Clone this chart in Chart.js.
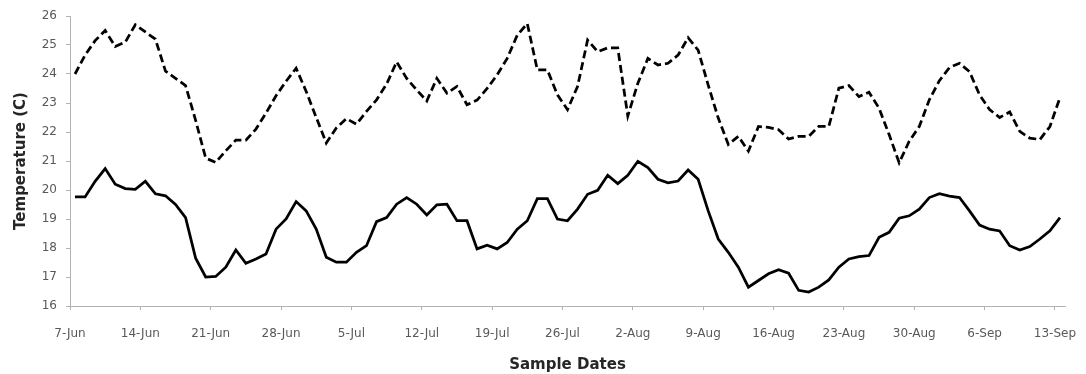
<!DOCTYPE html>
<html>
<head>
<meta charset="utf-8">
<script src="https://cdn.jsdelivr.net/npm/chart.js@4.4.1/dist/chart.umd.min.js"></script>
<style>
  html, body { margin: 0; padding: 0; background: #ffffff; }
  #wrap { width: 1086px; height: 374px; position: relative; }
</style>
</head>
<body>
<div id="wrap"><canvas id="c" width="1086" height="374"></canvas></div>
<script>
// Tick labels on the x axis (every 7 days, starting 7-Jun)
const tickLabels = ['7-Jun','14-Jun','21-Jun','28-Jun','5-Jul','12-Jul','19-Jul','26-Jul','2-Aug','9-Aug','16-Aug','23-Aug','30-Aug','6-Sep','13-Sep'];
const yTicks = [16,17,18,19,20,21,22,23,24,25,26];

// Daily samples from 7-Jun to 13-Sep (99 days)
const upperSeries = [
  24.0, 24.65, 25.15, 25.5, 24.95, 25.1, 25.7, 25.45, 25.2, 24.1,
  23.85, 23.6, 22.4, 21.1, 20.95, 21.35, 21.72, 21.72, 22.1, 22.65,
  23.25, 23.75, 24.2, 23.4, 22.5, 21.62, 22.14, 22.46, 22.27, 22.71,
  23.11, 23.65, 24.42, 23.85, 23.45, 23.07, 23.85, 23.34, 23.57, 22.94,
  23.1, 23.5, 23.97, 24.54, 25.34, 25.74, 24.14, 24.14, 23.28, 22.77,
  23.57, 25.17, 24.77, 24.9, 24.9, 22.55, 23.68, 24.54, 24.31, 24.37,
  24.65, 25.25, 24.82, 23.62, 22.48, 21.57, 21.85, 21.34, 22.19, 22.16,
  22.08, 21.76, 21.85, 21.85, 22.19, 22.19, 23.51, 23.6, 23.22, 23.37,
  22.82, 21.91, 20.94, 21.68, 22.19, 23.11, 23.77, 24.22, 24.37, 24.08,
  23.28, 22.77, 22.5, 22.69, 22.02, 21.79, 21.74, 22.19, 23.19
];
const lowerSeries = [
  19.76, 19.76, 20.3, 20.74, 20.2, 20.05, 20.02, 20.3, 19.87, 19.8,
  19.5, 19.05, 17.65, 17.0, 17.02, 17.34, 17.93, 17.47, 17.62, 17.79,
  18.65, 19.0, 19.6, 19.28, 18.65, 17.68, 17.51, 17.51, 17.85, 18.08,
  18.91, 19.05, 19.51, 19.74, 19.51, 19.14, 19.49, 19.51, 18.94, 18.94,
  17.97, 18.1, 17.97, 18.19, 18.65, 18.94, 19.7, 19.7, 19.0, 18.94,
  19.34, 19.85, 19.99, 20.51, 20.22, 20.51, 20.99, 20.77, 20.37, 20.25,
  20.31, 20.69, 20.37, 19.28, 18.31, 17.85, 17.34, 16.65, 16.88, 17.11,
  17.25, 17.13, 16.54, 16.48, 16.65, 16.9, 17.34, 17.62, 17.7, 17.74,
  18.37, 18.54, 19.03, 19.11, 19.34, 19.74, 19.87, 19.79, 19.74, 19.28,
  18.79, 18.65, 18.59, 18.08, 17.93, 18.05, 18.31, 18.59, 19.05
];

const DAYS_PER_TICK = 7;
const totalDays = upperSeries.length;

// each sample sits in the middle of its day on a date axis
const toPoints = arr => arr.map((v, i) => ({ x: i + 0.5, y: v }));

const axisColor = '#b3b3b3';
const tickFont = { family: 'DejaVu Sans', size: 12 };
const titleFont = { family: 'DejaVu Sans', size: 15, weight: 'bold' };

new Chart(document.getElementById('c'), {
  type: 'line',
  data: {
    datasets: [
      {
        label: 'Upper',
        data: toPoints(upperSeries),
        borderColor: '#000000',
        borderWidth: 2.75,
        borderDash: [8, 4],
        borderCapStyle: 'butt',
        borderJoinStyle: 'miter',
        pointRadius: 0,
        tension: 0,
        fill: false
      },
      {
        label: 'Lower',
        data: toPoints(lowerSeries),
        borderColor: '#000000',
        borderWidth: 2.75,
        borderJoinStyle: 'miter',
        pointRadius: 0,
        tension: 0,
        fill: false
      }
    ]
  },
  options: {
    responsive: false,
    animation: false,
    events: [],
    layout: { padding: { top: 16, right: 21, bottom: 0, left: 0 } },
    plugins: { legend: { display: false }, tooltip: { enabled: false } },
    scales: {
      x: {
        type: 'linear',
        min: 0,
        max: totalDays,
        afterFit: s => { s.height = 68; s.paddingLeft = 0; s.paddingRight = 0; },
        afterBuildTicks: s => { s.ticks = tickLabels.map((_, k) => ({ value: k * DAYS_PER_TICK })); },
        ticks: {
          autoSkip: false,
          maxRotation: 0,
          color: '#595959',
          font: tickFont,
          padding: 17,
          callback: (v) => tickLabels[Math.round(v / DAYS_PER_TICK)]
        },
        grid: { display: true, drawOnChartArea: false, drawTicks: true, tickLength: 4, color: axisColor, lineWidth: 1 },
        border: { display: true, color: axisColor, width: 1 },
        title: { display: true, text: 'Sample Dates', color: '#262626', font: titleFont, padding: { top: 0, bottom: 0 } }
      },
      y: {
        min: 16,
        max: 26,
        afterFit: s => { s.width = 70; s.paddingTop = 0; s.paddingBottom = 0; },
        afterBuildTicks: s => { s.ticks = yTicks.map(v => ({ value: v })); },
        ticks: {
          color: '#595959',
          font: tickFont,
          padding: 9
        },
        grid: { display: true, drawOnChartArea: false, drawTicks: true, tickLength: 4, color: axisColor, lineWidth: 1 },
        border: { display: true, color: axisColor, width: 1 },
        title: { display: true, text: 'Temperature (C)', color: '#262626', font: titleFont, padding: { top: 12, bottom: 0 } }
      }
    }
  }
});
</script>
</body>
</html>
